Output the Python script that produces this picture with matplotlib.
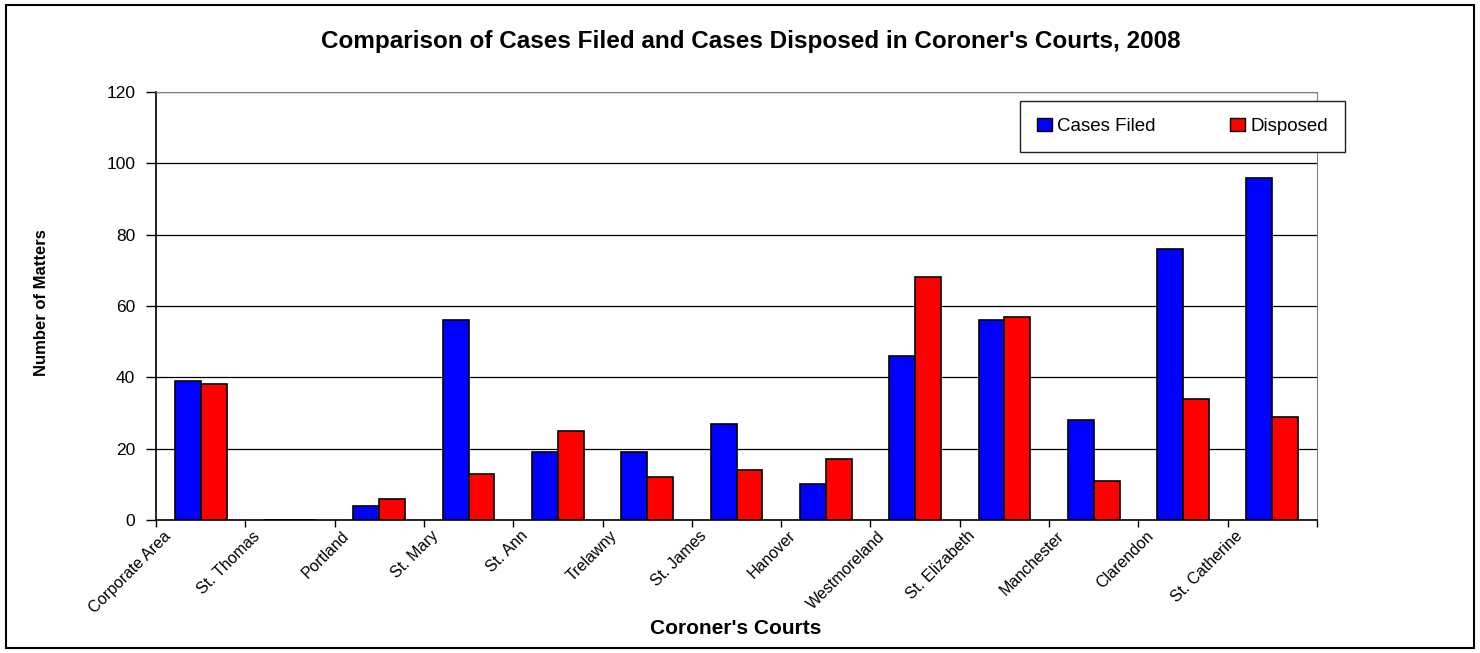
import numpy as np
import matplotlib
matplotlib.use("Agg")
import matplotlib.pyplot as plt
from matplotlib.patches import Patch, Rectangle

# ================= DATA =================
courts = ["Corporate Area", "St. Thomas", "Portland", "St. Mary", "St. Ann",
          "Trelawny", "St. James", "Hanover", "Westmoreland", "St. Elizabeth",
          "Manchester", "Clarendon", "St. Catherine"]
cases_filed = [39, 0, 4, 56, 19, 19, 27, 10, 46, 56, 28, 76, 96]
disposed = [38, 0, 6, 13, 25, 12, 14, 17, 68, 57, 11, 34, 29]
y_ticks = [0, 20, 40, 60, 80, 100, 120]

TITLE = "Comparison of Cases Filed and Cases Disposed in Coroner's Courts, 2008"
BLUE = "#0000FF"
RED = "#FF0000"

plt.rcParams["font.family"] = ["Liberation Sans", "DejaVu Sans"]

# ================= PLOTTING =================
fig = plt.figure(figsize=(14.8, 6.53), dpi=100)
ax = fig.add_axes([0.1054, 0.2037, 0.7845, 0.6554])

x = np.arange(len(courts))
w = 0.29
ax.bar(x - w / 2, cases_filed, w, color=BLUE, edgecolor="black", linewidth=1.2, zorder=3)
ax.bar(x + w / 2, disposed, w, color=RED, edgecolor="black", linewidth=1.2, zorder=3)

ax.set_xlim(-0.5, len(courts) - 0.5)
ax.set_ylim(0, 120)
ax.set_yticks(y_ticks)
ax.set_yticklabels([str(v) for v in y_ticks], fontsize=12.5)
ax.yaxis.grid(True, color="black", linewidth=0.9, zorder=0)
ax.tick_params(axis="y", direction="out", length=7, width=1, pad=8)

# tick marks at category boundaries, labels just right of each boundary
ax.set_xticks(np.arange(len(courts) + 1) - 0.5)
ax.set_xticklabels([])
ax.tick_params(axis="x", which="major", direction="out", length=5, width=1)
ax.set_xticks(x - 0.42, minor=True)
ax.set_xticklabels(courts, minor=True, rotation=45, ha="right",
                   rotation_mode="anchor", fontsize=11.5)
ax.tick_params(axis="x", which="minor", length=0, pad=6)

for side in ["top", "right"]:
    ax.spines[side].set_color("#808080")
for side in ["left", "bottom"]:
    ax.spines[side].set_color("black")
    ax.spines[side].set_linewidth(1.2)

fig.text(0.507, 0.937, TITLE, ha="center", va="center", fontsize=17.5, fontweight="bold")
fig.text(0.497, 0.038, "Coroner's Courts", ha="center", va="center", fontsize=15, fontweight="bold")
fig.text(0.028, 0.536, "Number of Matters", ha="center", va="center", rotation=90,
         fontsize=12, fontweight="bold")

handles = [Patch(facecolor=BLUE, edgecolor="black", linewidth=1),
           Patch(facecolor=RED, edgecolor="black", linewidth=1)]
leg = fig.legend(handles, ["Cases Filed", "Disposed"], loc="center",
                 bbox_to_anchor=((1016 + 1349) / 2 / 1480, 1 - 126.5 / 653),
                 ncol=2, fontsize=13.5, frameon=True, fancybox=False, framealpha=1,
                 edgecolor="#202020", handlelength=0.8, handleheight=0.7,
                 handletextpad=0.25, columnspacing=4.0, borderpad=0.9)
leg.get_frame().set_linewidth(1)

# outer chart border
fig.patches.append(Rectangle((0.004, 0.008), 0.992, 0.984, transform=fig.transFigure,
                             fill=False, edgecolor="black", linewidth=1.5))

fig.savefig("out.png", dpi=100, facecolor="white")
plt.close(fig)
